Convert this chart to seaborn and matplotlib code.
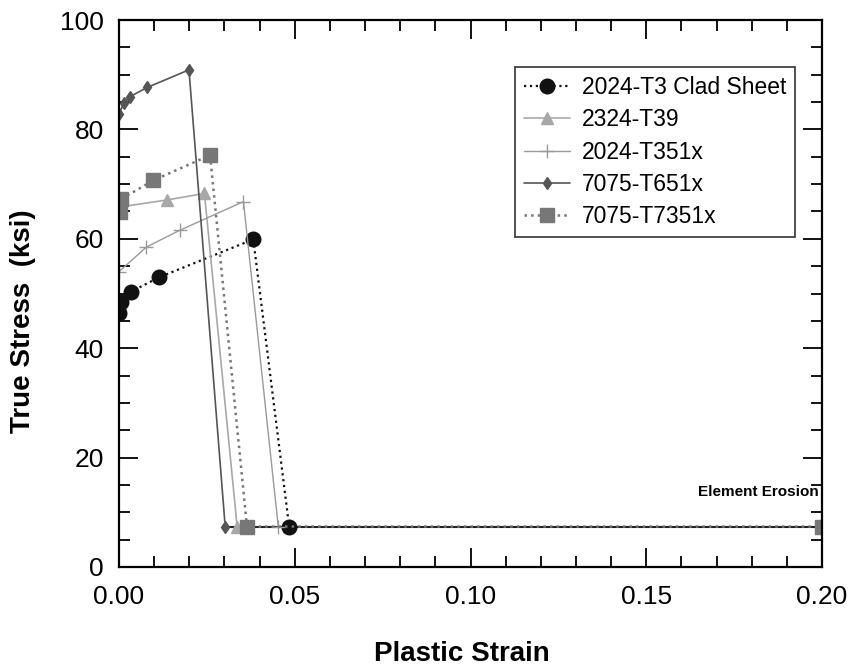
import numpy as np
import pandas as pd
import matplotlib
matplotlib.use("Agg")
import matplotlib.pyplot as plt
from matplotlib.ticker import MultipleLocator
import seaborn as sns

sns.set_style("ticks")
plt.rcParams["font.family"] = ["Liberation Sans", "DejaVu Sans"]
plt.rcParams["text.color"] = "black"
plt.rcParams["axes.labelcolor"] = "black"
plt.rcParams["xtick.color"] = "black"
plt.rcParams["ytick.color"] = "black"

# plastic strain / true stress (ksi)
t3_x = [0.0, 0.0006, 0.0033, 0.0115, 0.0382, 0.0484]
t3_y = [46.4, 48.5, 50.3, 53.0, 59.9, 7.4]

t39_x = [0.0, 0.0136, 0.0243, 0.0336]
t39_y = [65.8, 67.1, 68.3, 7.4]

t351_x = [0.0, 0.0078, 0.0174, 0.0354, 0.0453]
t351_y = [54.0, 58.5, 61.6, 66.8, 7.4]

t651_x = [0.0, 0.0014, 0.0031, 0.0081, 0.0199, 0.0302]
t651_y = [82.9, 84.8, 86.0, 87.7, 90.9, 7.4]

t7351_x = [0.0002, 0.0007, 0.0098, 0.0259, 0.0364, 0.20]
t7351_y = [64.9, 67.3, 70.7, 75.3, 7.4, 7.4]

erosion_x = [0.0302, 0.20]
erosion_y = [7.4, 7.4]

series = [
    ("2024-T3 Clad Sheet", t3_x, t3_y, "#111111", "o", ":", 10.5, 1.6),
    ("2324-T39", t39_x, t39_y, "#a8a8a8", "^", "-", 9, 1.2),
    ("2024-T351x", t351_x, t351_y, "#9a9a9a", "+", "-", 10, 1.0),
    ("7075-T651x", t651_x, t651_y, "#555555", "d", "-", 6, 1.2),
    ("7075-T7351x", t7351_x, t7351_y, "#777777", "s", ":", 9.5, 1.8),
]

fig = plt.figure(figsize=(8.52, 6.69), dpi=100)
ax = fig.add_axes([0.1397, 0.1525, 0.8251, 0.8175])

sns.lineplot(x=erosion_x, y=erosion_y, ax=ax, color="#222222", linewidth=1.5,
             estimator=None, sort=False)

for name, xs, ys, col, mk, ls, ms, lw in series:
    sns.lineplot(x=xs, y=ys, ax=ax, color=col, marker=mk, linestyle=ls,
                 markersize=ms, linewidth=lw, markeredgecolor=col,
                 markeredgewidth=1.0, estimator=None, sort=False, label=name)

ax.set_xlim(0, 0.20)
ax.set_ylim(0, 100)
ax.xaxis.set_major_locator(MultipleLocator(0.05))
ax.xaxis.set_minor_locator(MultipleLocator(0.01))
ax.yaxis.set_major_locator(MultipleLocator(20))
ax.yaxis.set_minor_locator(MultipleLocator(5))
ax.xaxis.set_major_formatter(plt.FormatStrFormatter("%.2f"))

ax.tick_params(which="both", direction="in", top=True, right=True,
               color="black", labelcolor="black", labelsize=19, width=1.3)
ax.tick_params(axis="x", which="major", length=14, pad=13)
ax.tick_params(axis="y", which="major", length=14, pad=11)
ax.tick_params(which="minor", length=8)
for sp in ax.spines.values():
    sp.set_color("black")
    sp.set_linewidth(1.6)

ax.set_xlabel("Plastic Strain", fontsize=20, fontweight="bold")
ax.set_ylabel("True Stress  (ksi)", fontsize=20, fontweight="bold")
ax.xaxis.set_label_coords(0.488, -0.135)
ax.yaxis.set_label_coords(-0.118, 0.45)

ax.text(0.995, 7.4 + 5.0, "Element Erosion", transform=ax.get_yaxis_transform(),
        ha="right", va="bottom", fontsize=11, fontweight="bold")

leg = ax.legend(loc="upper right", bbox_to_anchor=(0.962, 0.914),
                borderaxespad=0, fontsize=16.5, frameon=True, fancybox=False,
                handlelength=2.0, handletextpad=0.5, labelspacing=0.4,
                borderpad=0.4)
leg.get_frame().set_edgecolor("black")
leg.get_frame().set_linewidth(1.2)
for t in leg.get_texts():
    t.set_color("black")

fig.savefig("out.png", dpi=100)
